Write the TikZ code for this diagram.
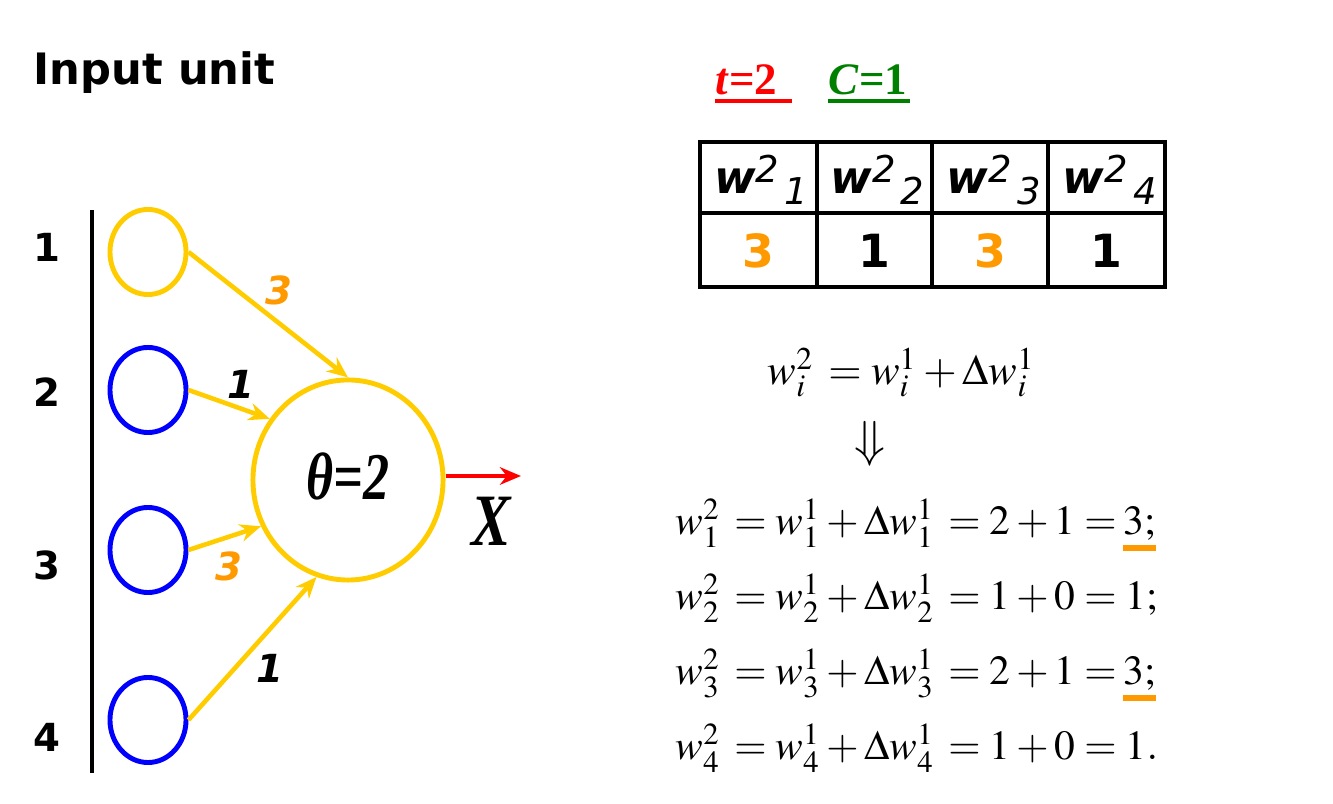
\documentclass[tikz,border=0pt]{standalone}
\usepackage{mathptmx}
\usepackage[no-math]{fontspec}
\setmainfont{Liberation Serif}
\newfontfamily\verd{DejaVu Sans}
\newfontfamily\tms{Liberation Serif}
\usetikzlibrary{shapes.geometric,arrows.meta}
\definecolor{gold}{HTML}{FFCC00}
\definecolor{orng}{HTML}{FF9900}
\definecolor{dgreen}{HTML}{008000}
% table head: w with raised 2 and lowered index
\newcommand{\wcell}[1]{{\fontsize{12.8}{15}\selectfont\verd\bfseries\itshape w}%
  \raisebox{3.2pt}{\fontsize{10.5}{12}\selectfont\verd\itshape 2}\hspace{1.5pt}%
  \raisebox{-3.1pt}{\fontsize{10.5}{12}\selectfont\verd\itshape #1}}
% orange bar under a result
\newcommand{\hilite}[1]{\setbox0\hbox{#1}\rlap{\color{orng}\rule[-4.6pt]{\wd0}{1.7pt}}\box0}
\begin{document}
\begin{tikzpicture}[x=0.01cm, y=-0.01cm, >={Stealth[length=6pt,width=5pt]},
  innode/.style={ellipse, draw=blue, line width=1.4pt, minimum width=0.76cm, minimum height=0.85cm, inner sep=0pt},
  link/.style={->, draw=gold, line width=1.3pt},
  wlab/.style={font=\fontsize{11}{13}\selectfont\verd\bfseries\itshape},
  idx/.style={font=\fontsize{11}{13}\selectfont\verd\bfseries},
  cell/.style={font=\fontsize{13}{15}\selectfont\verd\bfseries},
  eqn/.style={anchor=base west, inner sep=0pt, font=\fontsize{11.8}{14}\selectfont}]
  \useasboundingbox (0,0) rectangle (1333,804);

  \node[anchor=base west, inner sep=0pt, font=\fontsize{12.3}{14}\selectfont\verd\bfseries] (title) at (33,85) {Input unit};

  % inputs
  \draw[line width=0.9pt] (92,210) -- (92,773);
  \node[innode, draw=gold] (in1) at (148,252) {};
  \node[innode] (in2) at (148,390) {};
  \node[innode] (in3) at (148,550) {};
  \node[innode] (in4) at (148,720) {};
  \node[idx] (n1) at (47,247) {1};
  \node[idx] (n2) at (47,392) {2};
  \node[idx] (n3) at (47,565) {3};
  \node[idx] (n4) at (47,737) {4};

  % unit
  \node[ellipse, draw=gold, line width=1.4pt, minimum width=1.9cm, minimum height=2cm] (unit) at (348,480) {};
  \node[font=\fontsize{19}{22}\selectfont\tms\bfseries\itshape, xscale=0.78] (theta) at (348,476) {θ=2};
  \draw[link] (in1.east) -- (unit.north);
  \draw[link] (in2.east) -- (unit.142);
  \draw[link] (in3.east) -- (unit.208);
  \draw[link] (in4.east) -- (unit.252);
  \node[wlab, text=orng] (w1) at (279,290) {3};
  \node[wlab] (w2) at (241,384) {1};
  \node[wlab, text=orng] (w3) at (229,566) {3};
  \node[wlab] (w4) at (270,668) {1};

  \coordinate (xend) at (521,476);
  \draw[->, red, line width=1.4pt] (unit.east |- xend) -- (xend);
  \node[font=\fontsize{21}{24}\selectfont\tms\bfseries\itshape, xscale=0.8] (out) at (491,521) {X};

  % parameters
  \node[anchor=base west, inner sep=0pt, text=red, font=\fontsize{12.8}{14}\selectfont\tms\bfseries] (tval) at (715,95) {\textit{t}=2\,};
  \node[anchor=base west, inner sep=0pt, text=dgreen, font=\fontsize{12.8}{14}\selectfont\tms\bfseries] (cval) at (828,95) {\textit{C}=1};
  \draw[red, line width=1.1pt] (tval.base west) ++(0,6) -- ++(77,0);
  \draw[dgreen, line width=1.1pt] (cval.base west) ++(0,6) -- ++(82,0);

  % weight table
  \draw[line width=1pt] (817,142) -- (817,287) (932,142) -- (932,287) (1048,142) -- (1048,287) (700,213) -- (1165,213);
  \draw[line width=1.4pt] (700,142) rectangle (1165,287);
  \foreach \i/\v/\c in {1/3/orng, 2/1/black, 3/3/orng, 4/1/black} {
    \node (h\i) at ({703+(\i-0.5)*116.25},180) {\wcell{\i}};
    \node[cell, text=\c] (v\i) at ({700+(\i-0.5)*116.25},251) {\v};
  }

  % update rule
  \node[eqn, font=\fontsize{12.2}{14}\selectfont] (rule) at (767,385) {$w_i^2\,=w_i^1+\Delta w_i^1$};
  \node[font=\Large] (imp) at (870,444) {$\Downarrow$};
  \node[eqn] (r1) at (675,535) {$w_1^2\,=w_1^1+\Delta w_1^1\,=2+1=$\,\hilite{$3;$}};
  \node[eqn] (r2) at (675,610) {$w_2^2\,=w_2^1+\Delta w_2^1\,=1+0=1;$};
  \node[eqn] (r3) at (675,685) {$w_3^2\,=w_3^1+\Delta w_3^1\,=2+1=$\,\hilite{$3;$}};
  \node[eqn] (r4) at (675,760) {$w_4^2\,=w_4^1+\Delta w_4^1\,=1+0=1.$};
\end{tikzpicture}
\end{document}
